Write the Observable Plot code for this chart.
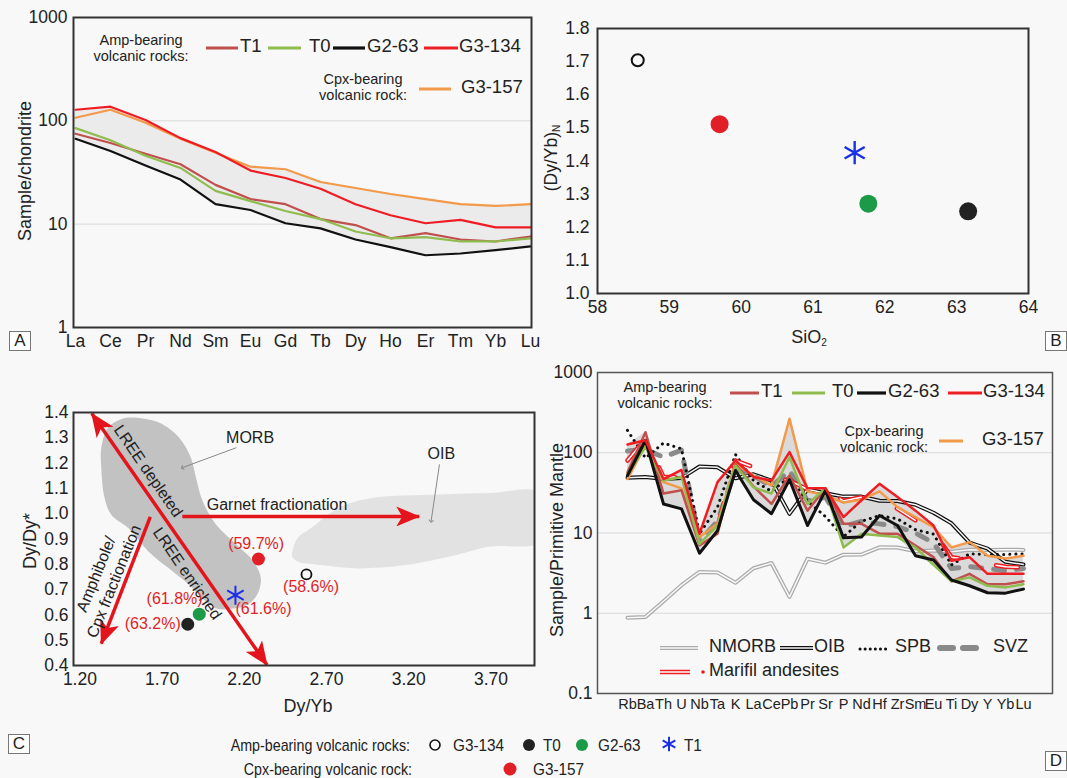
<!DOCTYPE html>
<html>
<head>
<meta charset="utf-8">
<script src="https://cdn.jsdelivr.net/npm/d3@7"></script>
<script src="https://cdn.jsdelivr.net/npm/@observablehq/plot@0.6"></script>
<style>
  html, body { margin: 0; padding: 0; background: #f8f8f8; }
  #fig { position: relative; width: 1067px; height: 778px; background: #f8f8f8; overflow: hidden;
         font-family: "Liberation Sans", Arial, Helvetica, sans-serif; color: #222; }
  #fig svg.panel { position: absolute; }
  .t { position: absolute; white-space: nowrap; line-height: 1; }
  .box { position: absolute; width: 20px; height: 18px; border: 1px solid #777; background: #fff;
         font-size: 17px; line-height: 18px; text-align: center; }
  .sw { position: absolute; overflow: visible; }
</style>
</head>
<body>
<div id="fig"></div>
<script>
// ------------------------------------------------------------------ data
// Panel A: chondrite-normalised REE
const reeElements = ["La","Ce","Pr","Nd","Sm","Eu","Gd","Tb","Dy","Ho","Er","Tm","Yb","Lu"];
const reeT1    = [75, 61, 48, 38, 24, 17.5, 15.6, 11.2, 9.8, 7.3, 8.2, 7.1, 6.8, 7.6];
const reeT0    = [85, 65, 46, 35, 21, 16.7, 13.4, 11.2, 8.5, 7.3, 7.5, 6.8, 6.8, 7.3];
const reeG263  = [67, 51, 37, 27, 15.6, 13.7, 10.2, 9.1, 7.1, 6.0, 5.0, 5.2, 5.6, 6.1];
const reeG3134 = [128, 137, 102, 68, 50, 33, 28, 22, 15.6, 12.2, 10.2, 11, 9.3, 9.3];
const reeG3157 = [107, 128, 96, 67, 49, 36, 34, 25.6, 22.4, 19.6, 17.5, 15.6, 15, 15.6];

// Panel B: (Dy/Yb)N vs SiO2
const bSamples = ["G3-134", "G3-157", "T1", "T0", "G2-63"];
const bSiO2    = [58.56, 59.70, 61.58, 63.16, 61.77];
const bDyYbN   = [1.704, 1.511, 1.425, 1.248, 1.271];

// Panel C: Dy/Dy* vs Dy/Yb
const cSamples = ["G3-134", "G3-157", "T1", "T0", "G2-63"];
const cDyYb    = [2.578, 2.286, 2.146, 1.856, 1.926];
const cDyDy    = [0.760, 0.821, 0.678, 0.563, 0.603];
const cPctText = ["(58.6%)", "(59.7%)", "(61.6%)", "(63.2%)", "(61.8%)"];
const cPctX    = [2.606, 2.272, 2.317, 1.643, 1.776];
const cPctY    = [0.711, 0.879, 0.625, 0.565, 0.662];
const morbX = [1.515,1.680,1.803,1.875,1.906,1.947,2.029,2.153,2.256,2.301,2.276,2.214,2.132,2.029,1.947,1.865,1.741,1.618,1.494,1.391,1.350,1.330,1.330,1.371,1.453];
const morbY = [1.380,1.360,1.301,1.221,1.142,1.049,0.956,0.877,0.811,0.744,0.678,0.638,0.625,0.625,0.665,0.718,0.784,0.850,0.943,0.996,1.062,1.181,1.261,1.340,1.374];
const oibX = [2.492,2.523,2.606,2.770,2.976,3.387,3.696,4.000,4.000,3.696,3.490,3.181,2.873,2.667,2.523,2.492];
const oibY = [0.850,0.903,0.943,1.022,1.062,1.076,1.082,1.082,0.890,0.870,0.837,0.797,0.784,0.797,0.811,0.830];
// trend arrows (x1,y1 -> x2,y2)
const lreeArrow    = {x1: 1.272, y1: 1.396, x2: 2.338, y2: 0.402};
const garnetArrow  = {x1: 1.823, y1: 0.989, x2: 3.264, y2: 0.989};
const amphArrow    = {x1: 1.628, y1: 0.987, x2: 1.330, y2: 0.486};
const pointerX1 = [2.152, 3.387], pointerY1 = [1.261, 1.195];
const pointerX2 = [1.823, 3.336], pointerY2 = [1.182, 0.970];
const cNoteText = ["MORB", "OIB", "Garnet fractionation"];
const cNoteX    = [2.235, 3.398, 2.399];
const cNoteY    = [1.301, 1.237, 1.036];

// Panel D: primitive-mantle-normalised spider diagram
const spiderElements = ["Rb","Ba","Th","U","Nb","Ta","K","La","Ce","Pb","Pr","Sr","P","Nd","Hf","Zr","Sm","Eu","Ti","Dy","Y","Yb","Lu"];
const spT1    = [57, 180, 31, 34, 7.0, 9.8, 72, 38, 23, 52, 19, 36, 13, 13, 9.8, 9.8, 7.0, 5.0, 2.5, 3.1, 2.3, 2.3, 2.5];
const spT0    = [55, 118, 45, 50, 7.3, 12.4, 69, 37, 31, 88, 23, 36, 6.6, 9.8, 9.3, 8.9, 6.6, 4.0, 2.5, 2.8, 2.2, 2.1, 2.3];
const spG263  = [52, 143, 23, 20, 5.6, 10.7, 60, 26, 17.4, 46, 12.4, 34, 8.7, 8.9, 16.5, 12.4, 5.2, 4.6, 2.6, 2.2, 1.8, 1.78, 2.0];
const spG3134 = [127, 143, 47, 61, 9.8, 43, 80, 50, 45, 102, 36, 36, 15.8, 25.6, 41, 28, 19, 12.4, 4.5, 5.0, 3.1, 3.1, 3.1];
const spG3157 = [47, 125, 43, 36, 8.9, 13, 73, 52, 39, 265, 33, 29.5, 24, 26, 33, 21, 15.8, 11.8, 6.6, 7.7, 5.2, 4.8, 5.2];
const spNMORB = [0.88, 0.90, 1.41, 2.24, 3.27, 3.22, 2.4, 3.64, 4.23, 1.6, 4.78, 4.27, 5.37, 5.39, 6.63, 6.6, 5.92, 6.07, 5.85, 6.17, 6.15, 6.19, 6.15];
const spOIB   = [48.8, 50, 47, 48.6, 67.3, 65.9, 48, 53.9, 45, 17.3, 35.1, 31.3, 28.4, 28.4, 25.2, 25, 22.5, 17.9, 13.2, 7.6, 6.4, 4.38, 4.05];
const spSPB   = [190, 86, 132, 112, 9.8, 21, 95, 45, 33, 50, 25, 16, 9, 14, 16.5, 15, 11, 9.7, 4.0, 5.5, 5.4, 5.4, 5.5];
const spSVZ   = [105, 110, 88, 108, 8, 14, 62, 52, 38, 60, 25, 28, 12, 14, 13, 12, 10, 7.5, 3.6, 3.8, 3.6, 3.4, 3.6];
const spMarifil = [80, 150, 50, 50, 8, 12, 80, 66, 50, 45, 35, 35, 25, 28, 26, 20, 14.3, 10.5, 5.0, 4.6, 4.1, 3.8, 3.7];

// colours
const sampleNames  = ["T1", "T0", "G2-63", "G3-134", "G3-157"];
const sampleColors = ["#c0504d", "#8fbc4f", "#111111", "#ee1d23", "#f3994a"];
const markerNames  = ["G3-134", "G3-157", "T1", "T0", "G2-63"];
const markerColors = ["#111111", "#e11f26", "#1a2fe6", "#222222", "#1b9a48"];

// ------------------------------------------------------------------ helpers
const FONT = '"Liberation Sans", Arial, Helvetica, sans-serif';
const BG = "#f8f8f8";
const fig = document.getElementById("fig");
const colorOf = n => sampleColors[sampleNames.indexOf(n)];
const markerColorOf = n => markerColors[markerNames.indexOf(n)];

function rows(elements, values) { return values.map((v, i) => ({el: elements[i], v})); }
function envelope(elements, list) {
  return elements.map((el, i) => ({el, lo: d3.min(list, a => a[i]), hi: d3.max(list, a => a[i])}));
}
function mount(svg, left, top) {
  svg.classList.add("panel");
  svg.style.left = left + "px"; svg.style.top = top + "px";
  fig.appendChild(svg);
  return svg;
}
function text(str, x, y, o = {}) {
  const d = document.createElement("div");
  d.className = "t";
  if (o.html) d.innerHTML = str; else d.textContent = str;
  d.style.left = x + "px"; d.style.top = y + "px";
  d.style.fontSize = (o.size || 17) + "px";
  if (o.color) d.style.color = o.color;
  const anchor = o.anchor || "middle";
  const tx = anchor === "middle" ? "-50%" : anchor === "end" ? "-100%" : "0";
  let tr = `translate(${tx},-50%)`;
  if (o.rotate) tr += ` rotate(${o.rotate}deg)`;
  if (o.sx) tr += ` scaleX(${o.sx})`;
  d.style.transform = tr;
  d.style.transformOrigin = anchor === "start" ? "0 50%" : anchor === "end" ? "100% 50%" : "50% 50%";
  fig.appendChild(d);
  return d;
}
const NS = "http://www.w3.org/2000/svg";
function svgEl(tag, attrs) { const e = document.createElementNS(NS, tag); for (const k in attrs) e.setAttribute(k, attrs[k]); return e; }
function swatchSvg(x, y, w, h) {
  const s = svgEl("svg", {width: w, height: h, class: "sw"});
  s.style.left = x + "px"; s.style.top = y + "px"; fig.appendChild(s); return s;
}
function lineSwatch(x1, x2, y, o) {
  const s = swatchSvg(x1 - 4, y - 8, x2 - x1 + 8, 16);
  const add = (stroke, width, extra = {}) => s.appendChild(svgEl("line", Object.assign({x1: 4, x2: x2 - x1 + 4, y1: 8, y2: 8, stroke, "stroke-width": width}, extra)));
  add(o.color, o.width || 3, o.extra || {});
  if (o.inner) add(o.inner, o.innerWidth || 1.4, o.extra || {});
}
function dotSwatch(cx, cy, r, fill, stroke) {
  const s = swatchSvg(cx - 12, cy - 12, 24, 24);
  s.appendChild(svgEl("circle", {cx: 12, cy: 12, r, fill, stroke: stroke || "none", "stroke-width": 1.6}));
}
function starSwatch(cx, cy, size, color) {
  const s = swatchSvg(cx - 12, cy - 12, 24, 24);
  s.appendChild(svgEl("path", {d: d3.symbol(d3.symbolAsterisk, size)(), transform: "translate(12,12)", stroke: color, "stroke-width": 2, fill: "none"}));
}
function box(letter, x, y) {
  const d = document.createElement("div"); d.className = "box"; d.textContent = letter;
  d.style.left = x + "px"; d.style.top = y + "px"; fig.appendChild(d);
}
const baseStyle = {background: "transparent", fontFamily: FONT, fontSize: "17.5px", color: "#222", overflow: "visible"};

// ------------------------------------------------------------------ Panel A
const aOrder = [["G3-157", reeG3157], ["T1", reeT1], ["T0", reeT0], ["G2-63", reeG263], ["G3-134", reeG3134]];
const plotA = Plot.plot({
  width: 545, height: 355, marginLeft: 73, marginRight: 14, marginTop: 17, marginBottom: 28,
  style: baseStyle,
  x: {type: "point", domain: reeElements, padding: 0},
  y: {type: "log", domain: [1, 1000]},
  marks: [
    Plot.ruleY([10, 100], {stroke: "#d9d9d9", strokeWidth: 1}),
    Plot.areaY(envelope(reeElements, [reeT1, reeT0, reeG263, reeG3134, reeG3157]), {x: "el", y1: "lo", y2: "hi", fill: "#ebebeb"}),
    ...aOrder.map(([n, vals]) => Plot.line(rows(reeElements, vals), {x: "el", y: "v", stroke: colorOf(n), strokeWidth: 2.2})),
    Plot.frame({stroke: "#333", strokeWidth: 2}),
    Plot.axisX({tickSize: 0, tickPadding: 7, label: null}),
    Plot.axisY({ticks: [1, 10, 100, 1000], tickFormat: d => String(d), tickSize: 0, tickPadding: 6, label: null})
  ]
});
mount(plotA, 0, 0);

// ------------------------------------------------------------------ Panel B
const bRows = bSamples.map((n, i) => ({n, x: bSiO2[i], y: bDyYbN[i]}));
const plotB = Plot.plot({
  width: 522, height: 355, marginLeft: 52, marginRight: 39, marginTop: 28, marginBottom: 62,
  style: baseStyle,
  x: {domain: [58, 64]},
  y: {domain: [1.0, 1.8]},
  marks: [
    Plot.frame({stroke: "#333", strokeWidth: 2}),
    Plot.axisX({ticks: d3.range(58, 65), tickFormat: d => String(d), tickSize: 0, tickPadding: 7, label: null}),
    Plot.axisY({ticks: d3.range(10, 19).map(d => d / 10), tickFormat: d => d.toFixed(1), tickSize: 0, tickPadding: 8, label: null}),
    Plot.dot(bRows.filter(d => d.n === "G3-134"), {x: "x", y: "y", r: 6, stroke: "#111", strokeWidth: 2, fill: "none"}),
    Plot.dot(bRows.filter(d => d.n === "G3-157" || d.n === "T0" || d.n === "G2-63"), {x: "x", y: "y", r: 9, fill: d => markerColorOf(d.n), stroke: "none"}),
    Plot.dot(bRows.filter(d => d.n === "T1"), {x: "x", y: "y", r: 11, symbol: "asterisk", stroke: markerColorOf("T1"), strokeWidth: 2.4})
  ]
});
mount(plotB, 545, 0);

// ------------------------------------------------------------------ Panel C
const cRows = cSamples.map((n, i) => ({n, x: cDyYb[i], y: cDyDy[i]}));
const plotC = Plot.plot({
  width: 545, height: 423, marginLeft: 73, marginRight: 11, marginTop: 57, marginBottom: 113,
  style: baseStyle,
  x: {domain: [1.161, 3.965]},
  y: {domain: [0.4, 1.4]},
  marks: [
    Plot.line(oibX.map((x, i) => ({x, y: oibY[i]})), {x: "x", y: "y", curve: "catmull-rom-closed", fill: "#e2e2e2", stroke: "none", clip: true}),
    Plot.line(morbX.map((x, i) => ({x, y: morbY[i]})), {x: "x", y: "y", curve: "catmull-rom-closed", fill: "#c2c2c2", stroke: "none"}),
    Plot.link(pointerX1.map((x, i) => ({x1: x, y1: pointerY1[i], x2: pointerX2[i], y2: pointerY2[i]})), {x1: "x1", y1: "y1", x2: "x2", y2: "y2", stroke: "#888", strokeWidth: 1, markerEnd: "arrow"}),
    Plot.link([garnetArrow, amphArrow], {x1: "x1", y1: "y1", x2: "x2", y2: "y2", stroke: "#e3141c", strokeWidth: 3.5}),
    Plot.link([lreeArrow], {x1: "x1", y1: "y1", x2: "x2", y2: "y2", stroke: "#e3141c", strokeWidth: 3.5}),
    Plot.text(cNoteText.map((t, i) => ({t, x: cNoteX[i], y: cNoteY[i]})), {x: "x", y: "y", text: "t", fontSize: 16, fill: "#222"}),
    Plot.text([{t: "LREE depleted", x: 1.615, y: 1.168}], {x: "x", y: "y", text: "t", rotate: 55.4, fontSize: 16, fill: "#222"}),
    Plot.text([{t: "LREE enriched", x: 1.852, y: 0.763}], {x: "x", y: "y", text: "t", rotate: 55.4, fontSize: 16, fill: "#222"}),
    Plot.text([{t: "Amphibole/\nCpx fractionation", x: 1.348, y: 0.748}], {x: "x", y: "y", text: "t", rotate: -68, fontSize: 16, lineHeight: 1.2, fill: "#222"}),
    Plot.text(cPctText.map((t, i) => ({t, x: cPctX[i], y: cPctY[i]})), {x: "x", y: "y", text: "t", fontSize: 16, fill: "#e11f26"}),
    Plot.dot(cRows.filter(d => d.n === "G3-134"), {x: "x", y: "y", r: 5, stroke: "#111", strokeWidth: 1.8, fill: "none"}),
    Plot.dot(cRows.filter(d => d.n === "G3-157" || d.n === "T0" || d.n === "G2-63"), {x: "x", y: "y", r: 6.5, fill: d => markerColorOf(d.n), stroke: "none"}),
    Plot.dot(cRows.filter(d => d.n === "T1"), {x: "x", y: "y", r: 9, symbol: "asterisk", stroke: markerColorOf("T1"), strokeWidth: 2}),
    Plot.frame({stroke: "#333", strokeWidth: 2}),
    Plot.axisX({ticks: [1.2, 1.7, 2.2, 2.7, 3.2, 3.7], tickFormat: d => d.toFixed(2), tickSize: 0, tickPadding: 7, label: null}),
    Plot.axisY({ticks: d3.range(4, 15).map(d => d / 10), tickFormat: d => d.toFixed(1), tickSize: 0, tickPadding: 5, label: null})
  ]
});
mount(plotC, 0, 355);
// filled triangular arrow heads for the red trend arrows
(function () {
  const defs = svgEl("defs", {});
  const m = svgEl("marker", {id: "tri", viewBox: "0 0 24 20", refX: 23, refY: 10, markerWidth: 24, markerHeight: 20,
    markerUnits: "userSpaceOnUse", orient: "auto-start-reverse"});
  m.appendChild(svgEl("path", {d: "M0,0 L24,10 L0,20 L6,10 Z", fill: "#e3141c"}));
  defs.appendChild(m); plotC.insertBefore(defs, plotC.firstChild);
  const links = plotC.querySelectorAll('g[aria-label="link"]');
  links[1].querySelectorAll("path").forEach(p => p.setAttribute("marker-end", "url(#tri)"));
  links[2].querySelectorAll("path").forEach(p => { p.setAttribute("marker-end", "url(#tri)"); p.setAttribute("marker-start", "url(#tri)"); });
})();

// ------------------------------------------------------------------ Panel D
const dOrder = [["G3-157", spG3157], ["T1", spT1], ["T0", spT0], ["G2-63", spG263], ["G3-134", spG3134]];
const R = (vals) => rows(spiderElements, vals);
const plotD = Plot.plot({
  width: 522, height: 423, marginLeft: 52, marginRight: 15, marginTop: 17, marginBottom: 85,
  style: baseStyle,
  x: {type: "point", domain: spiderElements, range: [62, 497]},
  y: {type: "log", domain: [0.1, 1000]},
  marks: [
    Plot.ruleY([1, 10, 100], {stroke: "#d9d9d9", strokeWidth: 1}),
    Plot.areaY(envelope(spiderElements, [spT1, spT0, spG263, spG3134, spG3157]), {x: "el", y1: "lo", y2: "hi", fill: "#dadada"}),
    Plot.line(R(spNMORB), {x: "el", y: "v", stroke: "#aaaaaa", strokeWidth: 4}),
    Plot.line(R(spNMORB), {x: "el", y: "v", stroke: BG, strokeWidth: 1.5}),
    Plot.line(R(spOIB), {x: "el", y: "v", stroke: "#111", strokeWidth: 4}),
    Plot.line(R(spOIB), {x: "el", y: "v", stroke: BG, strokeWidth: 1.5}),
    Plot.line(R(spSVZ), {x: "el", y: "v", stroke: "#8a8a8a", strokeWidth: 5, strokeDasharray: "11,12", strokeLinecap: "round"}),
    Plot.line(R(spSPB), {x: "el", y: "v", stroke: "#111", strokeWidth: 3, strokeDasharray: "0.1,6", strokeLinecap: "round"}),
    Plot.line(R(spMarifil), {x: "el", y: "v", stroke: "#ee1d23", strokeWidth: 4.5, strokeDasharray: "22,38"}),
    Plot.line(R(spMarifil), {x: "el", y: "v", stroke: "#fff", strokeWidth: 1.5, strokeDasharray: "22,38"}),
    ...dOrder.map(([n, vals]) => Plot.line(R(vals), {x: "el", y: "v", stroke: colorOf(n), strokeWidth: n === "G2-63" ? 3 : 2.5})),
    Plot.frame({stroke: "#555", strokeWidth: 1.5}),
    Plot.axisX({tickSize: 0, tickPadding: 5, label: null, fontSize: 14.5}),
    Plot.axisY({ticks: [0.1, 1, 10, 100, 1000], tickFormat: d => String(d), tickSize: 0, tickPadding: 5, label: null})
  ]
});
mount(plotD, 545, 355);
// keep the crowded element labels small enough not to collide
plotD.querySelectorAll('g[aria-label="x-axis tick label"]').forEach(g => g.setAttribute("font-size", "14.5"));
plotD.querySelectorAll('g[aria-label="x-axis tick label"] text').forEach(t => t.style.fontSize = "14.5px");

// ------------------------------------------------------------------ axis titles
text("Sample/chondrite", 25, 171, {size: 18, rotate: -90});
text("(Dy/Yb)<sub style='font-size:10px;vertical-align:-3px'>N</sub>", 552, 158, {size: 17.5, rotate: -90, html: true});
text("SiO<sub style='font-size:10px;vertical-align:-3px'>2</sub>", 809, 338, {size: 18, html: true});
text("Dy/Dy*", 30, 541, {size: 18, rotate: -90});
text("Dy/Yb", 308, 706, {size: 18});
text("Sample/Primitive Mantle", 557, 540, {size: 18, rotate: -90});

// ------------------------------------------------------------------ in-panel legends (A and D)
function sampleLegend(L) {
  text("Amp-bearing", L.ampX, L.ampY, {size: 14.5});
  text("volcanic rocks:", L.ampX, L.ampY + 16, {size: 14.5});
  L.items.forEach(([n, x1, x2, tx]) => {
    lineSwatch(x1, x2, L.lineY, {color: colorOf(n), width: n === "G2-63" ? 3.2 : 3});
    text(n, tx, L.lineY - 2, {size: 18.5, anchor: "start"});
  });
  text("Cpx-bearing", L.cpxX, L.cpxY, {size: 14.5});
  text("volcanic rock:", L.cpxX, L.cpxY + 16, {size: 14.5});
  lineSwatch(L.orange[0], L.orange[1], L.cpxY + 10, {color: colorOf("G3-157"), width: 3});
  text("G3-157", L.orange[2], L.cpxY + 8, {size: 18.5, anchor: "start"});
}
sampleLegend({ampX: 141, ampY: 40, lineY: 48,
  items: [["T1", 206, 238, 240], ["T0", 268, 301, 309], ["G2-63", 333, 365, 367], ["G3-134", 424, 458, 459]],
  cpxX: 363, cpxY: 79, orange: [419, 451, 461]});
sampleLegend({ampX: 665, ampY: 387, lineY: 393,
  items: [["T1", 730, 759, 761], ["T0", 792, 825, 832], ["G2-63", 857, 886, 888], ["G3-134", 948, 982, 983]],
  cpxX: 884, cpxY: 431, orange: [939, 963, 982]});

// reference-field legend of panel D
lineSwatch(660, 698, 648, {color: "#aaaaaa", width: 4, inner: BG, innerWidth: 1.5});
text("NMORB", 709, 646, {size: 18, anchor: "start"});
lineSwatch(780, 813, 648, {color: "#111", width: 4, inner: BG, innerWidth: 1.5});
text("OIB", 814, 646, {size: 18, anchor: "start"});
lineSwatch(860, 890, 649, {color: "#111", width: 3, extra: {"stroke-dasharray": "0.1,5", "stroke-linecap": "round"}});
text("SPB", 895, 646, {size: 18, anchor: "start"});
lineSwatch(940, 983, 648, {color: "#8a8a8a", width: 6, extra: {"stroke-dasharray": "13,10", "stroke-linecap": "round"}});
text("SVZ", 993, 646, {size: 18, anchor: "start"});
lineSwatch(660, 690, 672, {color: "#ee1d23", width: 4.5, inner: "#fff", innerWidth: 1.5});
dotSwatch(703, 672, 1.8, "#ee1d23");
text("Marifil andesites", 709, 670, {size: 18, anchor: "start"});

// ------------------------------------------------------------------ bottom legend (B and C)
text("Amp-bearing volcanic rocks:", 410, 745, {size: 17, anchor: "end", sx: 0.84});
dotSwatch(435, 745, 5, "none", "#111");
text("G3-134", 453, 745, {size: 17, anchor: "start", sx: 0.9});
dotSwatch(529, 745, 6, "#222");
text("T0", 543, 745, {size: 17, anchor: "start", sx: 0.9});
dotSwatch(582, 745, 6, "#1b9a48");
text("G2-63", 598, 745, {size: 17, anchor: "start", sx: 0.9});
starSwatch(669, 744, 150, "#1a2fe6");
text("T1", 684, 745, {size: 17, anchor: "start", sx: 0.9});
text("Cpx-bearing volcanic rock:", 412, 769, {size: 17, anchor: "end", sx: 0.84});
dotSwatch(510, 769, 6.5, "#e11f26");
text("G3-157", 533, 769, {size: 17, anchor: "start", sx: 0.9});

// panel letters
box("A", 9, 331); box("B", 1045, 331); box("C", 8, 734); box("D", 1045, 751);
</script>
</body>
</html>
